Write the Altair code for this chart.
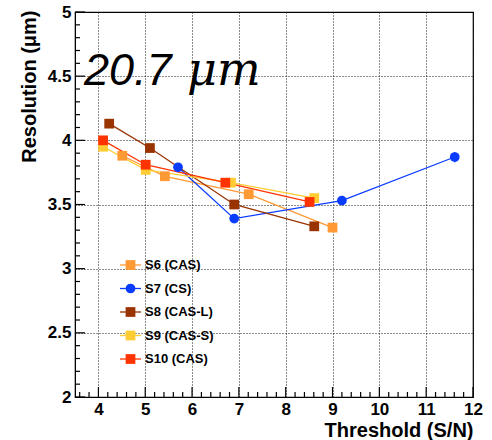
import altair as alt
import pandas as pd
import numpy as np

# ---- data ----
series = ["S6 (CAS)", "S7 (CS)", "S8 (CAS-L)", "S9 (CAS-S)", "S10 (CAS)"]
colors = ["#FF9933", "#0A3CFF", "#993300", "#FFCC33", "#FF3300"]
shapes = ["square", "circle", "square", "square", "square"]

s6_x = [4.51, 5.42, 7.21, 9.00]
s6_y = [3.88, 3.72, 3.58, 3.32]
s6_e = [0.02, 0.02, 0.02, 0.03]

s7_x = [5.70, 6.90, 9.20, 11.61]
s7_y = [3.79, 3.39, 3.53, 3.87]
s7_e = [0.03, 0.02, 0.03, 0.04]

s8_x = [4.23, 5.10, 6.90, 8.61]
s8_y = [4.13, 3.94, 3.50, 3.33]
s8_e = [0.02, 0.02, 0.02, 0.02]

s9_x = [4.10, 5.01, 6.83, 8.61]
s9_y = [3.95, 3.77, 3.67, 3.55]
s9_e = [0.02, 0.02, 0.02, 0.02]

s10_x = [4.10, 5.01, 6.71, 8.51]
s10_y = [4.00, 3.81, 3.67, 3.52]
s10_e = [0.02, 0.02, 0.02, 0.02]

x_major = [4, 5, 6, 7, 8, 9, 10, 11, 12]
y_major = [2, 2.5, 3, 3.5, 4, 4.5, 5]
title_parts = ["20.7", "\u03bcm"]

# ---- build tables ----
rows = []
for name, xs, ys, es in zip(series, [s6_x, s7_x, s8_x, s9_x, s10_x],
                            [s6_y, s7_y, s8_y, s9_y, s10_y],
                            [s6_e, s7_e, s8_e, s9_e, s10_e]):
    for x, y, e in zip(xs, ys, es):
        rows.append({"Series": name, "x": x, "y": y, "lo": y - e, "hi": y + e})
df = pd.DataFrame(rows)

x_minor = [float(v) for v in np.round(np.arange(3.6, 12.0, 0.2), 2) if abs(v - round(v)) > 1e-6]
y_minor = [float(v) for v in np.round(np.arange(2.1, 5.0, 0.1), 2) if abs(v * 2 - round(v * 2)) > 1e-6]

W, H = 398, 385
FONT = "Liberation Sans"

xscale = alt.Scale(domain=[3.5, 12], nice=False, zero=False)
yscale = alt.Scale(domain=[2, 5], nice=False, zero=False)
cscale = alt.Scale(domain=series, range=colors)
sscale = alt.Scale(domain=series, range=shapes)

xaxis = alt.Axis(orient="bottom", values=x_major, title="Threshold (S/N)", ticks=False,
                 labelFlush=False, labelOverlap=False, labelFontSize=17, labelFontWeight="bold",
                 labelFont=FONT, labelColor="black", labelPadding=4, grid=True,
                 gridDash=[1, 2], gridColor="black", gridOpacity=0.9, gridWidth=1,
                 domainColor="black", titleFont=FONT, titleFontSize=20,
                 titleFontWeight="bold", titleColor="black", titleAnchor="end",
                 titleAlign="right", titleX=W, titleY=39, titleBaseline="alphabetic")
yaxis = alt.Axis(orient="left", values=y_major, format="~g", title="Resolution (\u03bcm)",
                 ticks=False, labelFlush=False, labelOverlap=False, labelFontSize=17,
                 labelFontWeight="bold", labelFont=FONT, labelColor="black", labelPadding=4,
                 grid=True, gridDash=[1, 2], gridColor="black", gridOpacity=0.9, gridWidth=1,
                 domainColor="black", titleFont=FONT, titleFontSize=20,
                 titleFontWeight="bold", titleColor="black", titleAngle=-90,
                 titleAlign="right", titleBaseline="middle", titleX=-46, titleY=-2)

base = alt.Chart(df)
lines = base.mark_line(strokeWidth=1.3).encode(
    x=alt.X("x:Q", scale=xscale, axis=xaxis),
    y=alt.Y("y:Q", scale=yscale, axis=yaxis),
    color=alt.Color("Series:N", scale=cscale, legend=None),
    detail="Series:N",
)
errs = base.mark_rule(strokeWidth=1.3).encode(
    x=alt.X("x:Q", scale=xscale),
    y=alt.Y("lo:Q", scale=yscale),
    y2="hi:Q",
    color=alt.Color("Series:N", scale=cscale, legend=None),
)
pts = base.mark_point(filled=True, size=95, opacity=1).encode(
    x=alt.X("x:Q", scale=xscale),
    y=alt.Y("y:Q", scale=yscale),
    color=alt.Color("Series:N", scale=cscale, legend=None),
    shape=alt.Shape("Series:N", scale=sscale, legend=None),
)

# inward ticks (no transforms, one small table each)
xmaj = alt.Chart(pd.DataFrame({"xt": x_major})).mark_rule(color="black", strokeWidth=1.2).encode(
    x=alt.X("xt:Q", scale=xscale), y=alt.value(H), y2=alt.value(H - 10))
xmin = alt.Chart(pd.DataFrame({"xm": x_minor})).mark_rule(color="black", strokeWidth=1.2).encode(
    x=alt.X("xm:Q", scale=xscale), y=alt.value(H), y2=alt.value(H - 5))
ymaj = alt.Chart(pd.DataFrame({"yt": y_major})).mark_rule(color="black", strokeWidth=1.2).encode(
    y=alt.Y("yt:Q", scale=yscale), x=alt.value(0), x2=alt.value(10))
ymin = alt.Chart(pd.DataFrame({"ym": y_minor})).mark_rule(color="black", strokeWidth=1.2).encode(
    y=alt.Y("ym:Q", scale=yscale), x=alt.value(0), x2=alt.value(5))

t1 = alt.Chart(pd.DataFrame({"t1": [title_parts[0]]})).mark_text(
    font=FONT, fontStyle="italic", fontSize=45, align="left", baseline="alphabetic",
    color="black").encode(text="t1:N", x=alt.value(9), y=alt.value(73))
t2 = alt.Chart(pd.DataFrame({"t2": [title_parts[1]]})).mark_text(
    font="DejaVu Serif", fontStyle="italic", fontSize=46, align="left",
    baseline="alphabetic", color="black").encode(text="t2:N", x=alt.value(112), y=alt.value(73))

# legend rows: one tiny table per entry, no filter transforms
legend_layers = []
for i, s in enumerate(series):
    ly = 253 + i * 23.5
    lb = alt.Chart(pd.DataFrame({"Series": [s]}))
    legend_layers.append(lb.mark_rule(strokeWidth=1.3).encode(
        x=alt.value(45), x2=alt.value(66), y=alt.value(ly),
        color=alt.Color("Series:N", scale=cscale, legend=None)))
    legend_layers.append(lb.mark_point(filled=True, size=95, opacity=1).encode(
        x=alt.value(55.5), y=alt.value(ly),
        color=alt.Color("Series:N", scale=cscale, legend=None),
        shape=alt.Shape("Series:N", scale=sscale, legend=None)))
    legend_layers.append(lb.mark_text(font=FONT, fontWeight="bold", fontSize=13, align="left",
                                      baseline="middle", color="black").encode(
        x=alt.value(70), y=alt.value(ly), text="Series:N"))

chart = alt.layer(lines, xmin, xmaj, ymin, ymaj, errs, pts, t1, t2, *legend_layers).properties(
    width=W, height=H,
    autosize=alt.AutoSizeParams(type="none"),
    padding={"left": 75, "top": 12, "right": 19, "bottom": 43},
).configure_view(stroke="black", strokeWidth=1.2)

chart.save("out.html", embed_options={"renderer": "svg", "actions": False})
